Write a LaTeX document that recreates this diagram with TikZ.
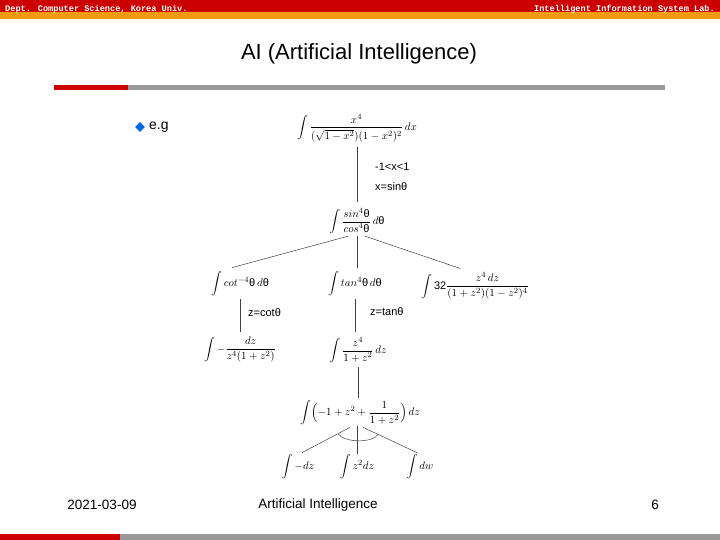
\documentclass[tikz,border=0pt]{standalone}
\usepackage{amsmath}
\usepackage{fontspec}
\setmainfont{Liberation Sans}
\newfontfamily\hdrfont{Liberation Mono}
\usepackage{xcolor}
\usepackage{tikz}
\usetikzlibrary{shapes.geometric, calc}

\definecolor{barred}{RGB}{204,0,0}
\definecolor{barorange}{RGB}{243,156,18}
\definecolor{bargray}{RGB}{153,153,153}
\definecolor{bulletblue}{RGB}{0,102,221}
\newcommand{\thta}{\mbox{θ}}

\tikzset{
  expr/.style={font=\fontsize{11}{13}\selectfont, inner sep=1pt},
  note/.style={font=\fontsize{11}{13}\selectfont, anchor=west, inner sep=0pt},
  link/.style={draw=black!75, line width=0.5pt},
  hdr/.style={font=\hdrfont\bfseries\fontsize{8.6}{9}\selectfont, text=white, inner sep=0pt}
}

\begin{document}
\begin{tikzpicture}[x=1pt, y=-1pt]
        \useasboundingbox (0,0) rectangle (720,540);
        % header and footer bars
        \fill[barred] (0,0) rectangle (720,12);
        \fill[barorange] (0,12) rectangle (720,19);
        \node[hdr, anchor=west] (dept) at (5,9) {Dept. Computer Science, Korea Univ.};
        \node[hdr, anchor=east] (lab) at (715,9) {Intelligent Information System Lab.};
        \node[font=\fontsize{22}{26}\selectfont] (title) at (359,54) {AI (Artificial Intelligence)};
        \fill[barred] (54,85) rectangle (128,90);
        \fill[bargray] (128,85) rectangle (665,90);
        \fill[barred] (0,534) rectangle (120,540);
        \fill[bargray] (120,534) rectangle (720,540);
        \node[font=\fontsize{13.5}{16}\selectfont] (date) at (102,505) {2021-03-09};
        \node[font=\fontsize{13.5}{16}\selectfont] (course) at (318,505) {Artificial Intelligence};
        \node[font=\fontsize{13.5}{16}\selectfont] (page) at (655,505) {6};
        \node[diamond, fill=bulletblue, minimum size=10pt, inner sep=0pt] (bul) at (140,127) {};
        \node[font=\fontsize{14}{16}\selectfont, anchor=west, inner sep=0pt] (eg) at (149,127) {e.g};

        % the tree
        \node[expr] (n1) at (357,128) {$\displaystyle\int \frac{x^4}{(\sqrt{1-x^2})(1-x^2)^2}\,dx$};
        \node[expr] (n2) at (357,221) {$\displaystyle\int \frac{sin^4\thta}{cos^4\thta}\,d\thta$};
        \node[expr] (n3) at (240,284) {$\displaystyle\int cot^{-4}\thta\, d\thta$};
        \node[expr] (n4) at (355,284) {$\displaystyle\int tan^{4}\thta\, d\thta$};
        \node[expr] (n5) at (475,286) {$\displaystyle\int \mbox{32}\frac{z^4\,dz}{(1+z^2)(1-z^2)^4}$};
        \node[expr] (n6) at (240,350) {$\displaystyle\int -\frac{dz}{z^4(1+z^2)}$};
        \node[expr] (n7) at (358,350) {$\displaystyle\int \frac{z^4}{1+z^2}\,dz$};
        \node[expr] (n8) at (360,413) {$\displaystyle\int \Bigl(-1+z^2+\frac{1}{1+z^2}\Bigr)\,dz$};
        \node[expr] (n9) at (298,467) {$\displaystyle\int -dz$};
        \node[expr] (n10) at (357,467) {$\displaystyle\int z^2dz$};
        \node[expr] (n11) at (420,467) {$\displaystyle\int dw$};

        \node[note] (c1) at (375,167) {-1<x<1};
        \node[note] (c2) at (375,187) {x=sin\thta};
        \node[note] (c3) at (248,313) {z=cot\thta};
        \node[note] (c4) at (370,312) {z=tan\thta};

        \draw[link, shorten <=4pt, shorten >=5pt] (n1.south) -- (n2.north);
        \draw[link] ($(n2.south)+(-9,1)$) -- ($(n3.north)+(-8,-3)$);
        \draw[link] ($(n2.south)+(0,1)$) -- ($(n4.north)+(2,-3)$);
        \draw[link] ($(n2.south)+(8,1)$) -- ($(n5.north)+(-15,-3)$);
        \draw[link, shorten <=2pt, shorten >=4pt] (n3.south) -- (n6.north -| n3.south);
        \draw[link, shorten <=2pt, shorten >=4pt] (n4.south) -- (n7.north -| n4.south);
        \draw[link, shorten <=3pt, shorten >=2pt] (n7.south) -- (n8.north -| n7.south);
        \coordinate (l0) at ($(n8.south)+(-10,1)$);
        \coordinate (m0) at ($(n8.south)+(-3,0)$);
        \coordinate (r0) at ($(n8.south)+(3,1)$);
        \coordinate (l1) at ($(n9.north)+(4,-1)$);
        \coordinate (r1) at ($(n11.north)+(-3,-1)$);
        \draw[link] (l0) -- (l1);
        \draw[link] (m0) -- (n10.north -| m0);
        \draw[link] (r0) -- (r1);
        % and-arc
        \coordinate (al) at ($(l0)!0.25!(l1)$);
        \coordinate (ar) at ($(r0)!0.28!(r1)$);
        \draw[link] (al) .. controls ($(al)+(6,9)$) and ($(ar)+(-6,9)$) .. (ar);
    \end{tikzpicture}
\end{document}
